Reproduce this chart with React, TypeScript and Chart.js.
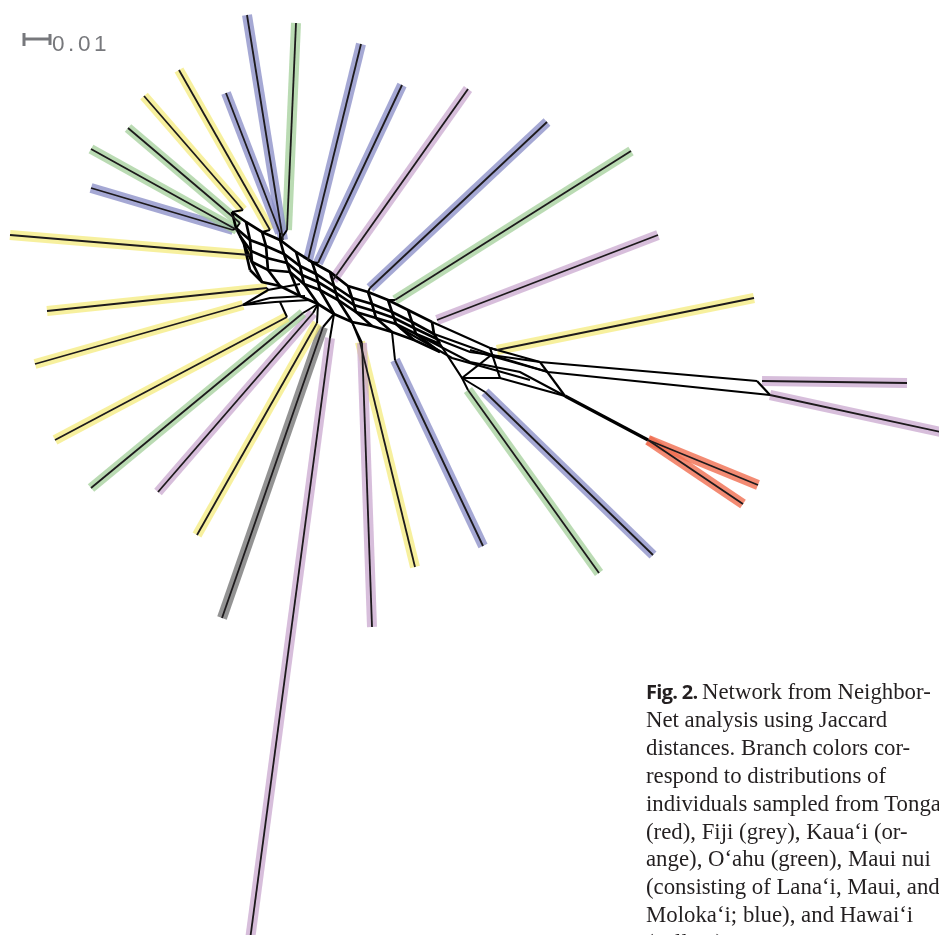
import React, { useEffect, useRef } from "react";
import { Chart, registerables } from "chart.js";

Chart.register(...registerables);

// ---- Terminal branches (network coordinates: x right, y down) ----
const branchGroup = [
  "blue", "green", "blue", "yellow", "yellow", "green", "green", "blue", "yellow",
  "blue", "blue", "purple", "blue", "green", "purple", "yellow",
  "purple", "purple", "red", "red",
  "purple", "yellow", "blue", "green", "blue",
  "yellow", "yellow", "yellow", "green", "purple", "yellow", "grey", "purple",
];
const branchBaseX = [283, 287, 280, 270, 243, 240, 237, 233, 250, 308, 318, 333, 370, 395, 437, 497, 762, 770, 648, 648, 362, 360, 395, 468, 485, 267, 243, 287, 303, 313, 317, 323, 330];
const branchBaseY = [240, 230, 233, 230, 210, 223, 230, 230, 255, 260, 263, 280, 288, 300, 320, 350, 381, 395, 440, 440, 343, 342, 360, 390, 392, 288, 305, 317, 313, 313, 323, 327, 338];
const branchTipX = [247, 296, 226, 179, 144, 128, 91, 91, 10, 361, 402, 468, 547, 631, 658, 754, 907, 950, 758, 743, 372, 415, 483, 599, 653, 47, 35, 55, 91, 158, 197, 222, 250];
const branchTipY = [15, 23, 93, 70, 96, 128, 149, 188, 235, 44, 85, 89, 122, 151, 235, 298, 383, 434, 485, 504, 627, 567, 546, 573, 555, 311, 364, 440, 488, 492, 535, 618, 940];

const groupColors: Record<string, string> = {
  yellow: "rgba(244,234,120,0.72)",
  blue: "rgba(140,143,200,0.78)",
  green: "rgba(160,205,150,0.72)",
  purple: "rgba(200,165,205,0.72)",
  red: "rgba(240,110,80,0.8)",
  grey: "rgba(120,120,120,0.8)",
};

// ---- Network splits: main parallel strands ----
const mainStrandX = [
  [232, 246, 262, 280, 296, 312, 330, 348, 368, 388, 408, 432],
  [236, 250, 266, 284, 300, 316, 334, 352, 372, 392, 412, 434],
  [240, 251, 267, 287, 302, 318, 336, 354, 374, 394, 414, 437],
  [244, 252, 268, 290, 304, 320, 338, 356, 376, 396, 416, 440],
  [250, 262, 280, 300, 318, 334, 352, 372, 392, 414, 440],
];
const mainStrandY = [
  [212, 222, 232, 240, 252, 262, 272, 286, 292, 300, 310, 322],
  [228, 240, 246, 254, 266, 274, 286, 298, 304, 312, 322, 334],
  [236, 251, 258, 263, 275, 282, 293, 305, 311, 318, 328, 339],
  [244, 262, 270, 272, 284, 290, 300, 312, 318, 324, 334, 344],
  [270, 282, 286, 296, 304, 314, 322, 326, 332, 340, 352],
];

// ---- Other network edges (fan to the east, western extension) ----
const edgeX = [
  [432, 490, 540, 757],
  [434, 495, 548, 770],
  [440, 462, 500, 565],
  [416, 470, 520, 565],
  [470, 548],
  [490, 500],
  [540, 565],
  [437, 470, 540],
  [462, 490],
  [400, 452, 530],
  [243, 268, 300],
  [243, 270, 305],
  [243, 275, 310],
  [757, 770],
];
const edgeY = [
  [322, 348, 362, 381],
  [334, 356, 372, 395],
  [344, 378, 378, 396],
  [334, 362, 372, 396],
  [350, 372],
  [348, 378],
  [362, 396],
  [339, 352, 362],
  [378, 356],
  [328, 358, 380],
  [305, 290, 284],
  [305, 298, 296],
  [305, 302, 300],
  [381, 395],
];
const trunkX = [565, 648];
const trunkY = [396, 440];

// ---- Links from branch bases into the network ----
const linkX = [
  [283, 280], [287, 280], [280, 280], [270, 262], [243, 232], [240, 236], [237, 236], [233, 236], [250, 252],
  [308, 312], [318, 312], [333, 330], [370, 368], [395, 388], [497, 490],
  [303, 318], [313, 318], [317, 318], [323, 334], [330, 334],
  [362, 352], [360, 352], [395, 392], [468, 462], [485, 462], [267, 268], [287, 280],
];
const linkY = [
  [240, 240], [230, 240], [233, 240], [230, 232], [210, 212], [223, 228], [230, 228], [230, 228], [255, 262],
  [260, 262], [263, 262], [280, 272], [288, 292], [300, 300], [350, 348],
  [313, 304], [313, 304], [323, 304], [327, 314], [338, 314],
  [343, 322], [342, 322], [360, 332], [390, 378], [392, 378], [288, 290], [317, 302],
];

// scale bar
const scaleBarX = [24, 50];
const scaleBarY = [39, 39];

type P = { x: number; y: number };
const pts = (xs: number[], ys: number[]): P[] => xs.map((x, i) => ({ x, y: ys[i] }));

export default function App() {
  const ref = useRef<HTMLCanvasElement | null>(null);

  useEffect(() => {
    if (!ref.current) return;
    const datasets: any[] = [];
    const line = (data: P[], color: string, width: number, order: number) => ({
      data,
      showLine: true,
      borderColor: color,
      backgroundColor: color,
      borderWidth: width,
      pointRadius: 0,
      borderCapStyle: "butt",
      borderJoinStyle: "miter",
      tension: 0,
      order,
    });
    branchGroup.forEach((g, i) => {
      datasets.push(
        line(
          [
            { x: branchBaseX[i], y: branchBaseY[i] },
            { x: branchTipX[i], y: branchTipY[i] },
          ],
          groupColors[g],
          10,
          3
        )
      );
    });
    branchGroup.forEach((_g, i) => {
      datasets.push(
        line(
          [
            { x: branchBaseX[i], y: branchBaseY[i] },
            { x: branchTipX[i], y: branchTipY[i] },
          ],
          "#1d1a1c",
          1.8,
          1
        )
      );
    });
    mainStrandX.forEach((xs, i) => datasets.push(line(pts(xs, mainStrandY[i]), "#000", 2.7, 1)));
    const nR = mainStrandX[0].length;
    for (let i = 0; i < nR; i++) {
      const d: P[] = [];
      for (let s = 0; s < mainStrandX.length; s++) {
        if (i < mainStrandX[s].length) d.push({ x: mainStrandX[s][i], y: mainStrandY[s][i] });
      }
      datasets.push(line(d, "#000", 2.7, 1));
    }
    edgeX.forEach((xs, i) => datasets.push(line(pts(xs, edgeY[i]), "#000", 2.2, 1)));
    linkX.forEach((xs, i) => datasets.push(line(pts(xs, linkY[i]), "#000", 2, 1)));
    datasets.push(line(pts(trunkX, trunkY), "#000", 3.2, 1));
    datasets.push(line(pts(scaleBarX, scaleBarY), "#77787c", 3, 0));
    datasets.push(line([{ x: scaleBarX[0], y: 33 }, { x: scaleBarX[0], y: 46 }], "#77787c", 3, 0));
    datasets.push(line([{ x: scaleBarX[1], y: 34 }, { x: scaleBarX[1], y: 45 }], "#77787c", 3, 0));

    const chart = new Chart(ref.current, {
      type: "scatter",
      data: { datasets },
      options: {
        animation: false,
        responsive: false,
        maintainAspectRatio: false,
        layout: { padding: 0 },
        plugins: { legend: { display: false }, tooltip: { enabled: false } },
        scales: {
          x: { type: "linear", min: 0, max: 939, display: false },
          y: { type: "linear", min: 0, max: 935, reverse: true, display: false },
        },
      } as any,
    });
    return () => chart.destroy();
  }, []);

  const caption = [
    "Network from Neighbor-",
    "Net analysis using Jaccard",
    "distances. Branch colors cor-",
    "respond to distributions of",
    "individuals sampled from Tonga",
    "(red), Fiji (grey), Kaua\u2018i (or-",
    "ange), O\u2018ahu (green), Maui nui",
    "(consisting of Lana\u2018i, Maui, and",
    "Moloka\u2018i; blue), and Hawai\u2018i",
    "(yellow).",
  ];

  return (
    <div
      style={{
        position: "fixed",
        left: 0,
        top: 0,
        width: 939,
        height: 935,
        overflow: "hidden",
        background: "#fff",
      }}
    >
      <canvas ref={ref} width={939} height={935} style={{ position: "absolute", left: 0, top: 0, width: 939, height: 935 }} />
      <div
        style={{
          position: "absolute",
          left: 52,
          top: 30,
          fontFamily: "'Liberation Sans', Arial, sans-serif",
          fontSize: 22.5,
          letterSpacing: 3.6,
          color: "#77787c",
          lineHeight: "28px",
        }}
      >
        0.01
      </div>
      <div
        style={{
          position: "absolute",
          left: 646,
          top: 678,
          fontFamily: "'Liberation Serif', 'Times New Roman', serif",
          fontSize: 22.8,
          lineHeight: "27.9px",
          color: "#231f20",
          whiteSpace: "nowrap",
        }}
      >
        {caption.map((t, i) => (
          <div key={i}>
            {i === 0 && (
              <span style={{ fontFamily: "'Open Sans', sans-serif", fontWeight: 700, fontSize: 20, letterSpacing: -0.7 }}>
                Fig. 2.{" "}
              </span>
            )}
            {t}
          </div>
        ))}
      </div>
    </div>
  );
}
